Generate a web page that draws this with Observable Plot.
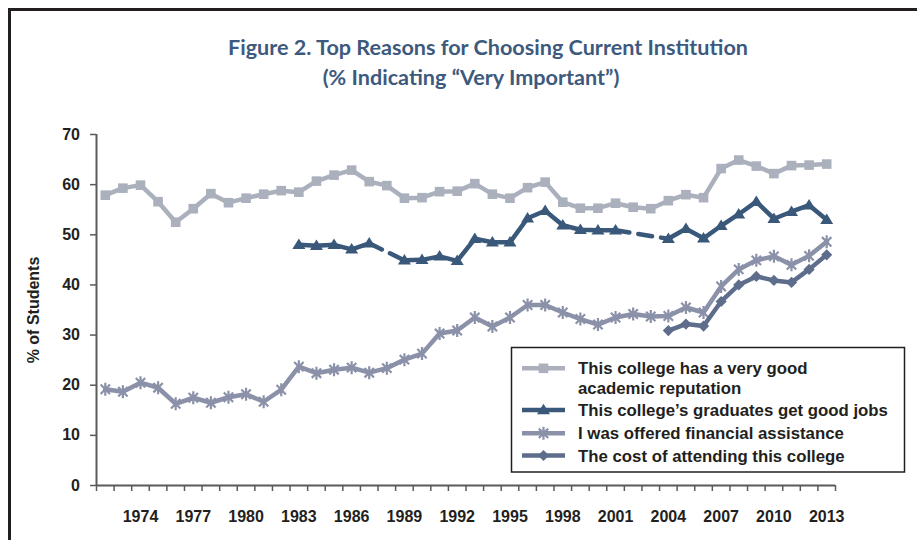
<!DOCTYPE html>
<html><head><meta charset="utf-8">
<script src="https://cdn.jsdelivr.net/npm/d3@7"></script>
<script src="https://cdn.jsdelivr.net/npm/@observablehq/plot@0.6"></script>
<style>
html,body{margin:0;padding:0;background:#fff;}
#wrap{position:relative;width:917px;height:540px;overflow:hidden;}
</style></head><body>
<div id="wrap"></div>
<script>
// ---- data ----
const years = [1972,1973,1974,1975,1976,1977,1978,1979,1980,1981,1982,1983,1984,1985,1986,1987,1988,1989,1990,1991,1992,1993,1994,1995,1996,1997,1998,1999,2000,2001,2002,2003,2004,2005,2006,2007,2008,2009,2010,2011,2012,2013];
const labelYears = [1974,1977,1980,1983,1986,1989,1992,1995,1998,2001,2004,2007,2010,2013];
const yTicks = [0,10,20,30,40,50,60,70];
const reputation = [57.9,59.3,59.9,56.6,52.5,55.2,58.2,56.4,57.3,58.1,58.8,58.5,60.7,61.9,62.9,60.6,59.8,57.3,57.4,58.6,58.7,60.2,58.1,57.3,59.4,60.5,56.5,55.3,55.3,56.3,55.5,55.2,56.8,58.0,57.4,63.2,64.9,63.7,62.2,63.8,63.9,64.1];
const jobs = [null,null,null,null,null,null,null,null,null,null,null,48.0,47.8,48.0,47.1,48.3,null,44.9,45.0,45.7,44.8,49.2,48.5,48.5,53.3,54.8,51.9,51.0,50.9,50.9,null,null,49.2,51.2,49.3,51.8,54.1,56.6,53.2,54.6,55.9,53.0];
const aid = [19.2,18.7,20.5,19.5,16.3,17.5,16.5,17.6,18.2,16.7,19.1,23.7,22.4,23.1,23.5,22.5,23.4,25.1,26.3,30.3,30.9,33.5,31.7,33.5,36.0,36.0,34.5,33.2,32.1,33.5,34.2,33.7,33.8,35.5,34.5,39.7,43.1,44.9,45.7,44.0,45.8,48.6];
const cost = [null,null,null,null,null,null,null,null,null,null,null,null,null,null,null,null,null,null,null,null,null,null,null,null,null,null,null,null,null,null,null,null,30.9,32.2,31.8,36.7,40.0,41.7,40.9,40.5,43.1,46.0];
const seriesNames = ["This college has a very good\nacademic reputation","This college\u2019s graduates get good jobs","I was offered financial assistance","The cost of attending this college"];
const seriesColors = ["#abb0bd","#39587a","#8a91a8","#5e6d8b"];
const titleLines = ["Figure 2. Top Reasons for Choosing Current Institution","(% Indicating \u201cVery Important\u201d)"];
const yLabel = "% of Students";

// ---- symbols ----
const rad = s => Math.sqrt(s/Math.PI);
const symSquare = {draw(c,s){const r=rad(s);c.moveTo(-r,-r);c.lineTo(r,-r);c.lineTo(r,r);c.lineTo(-r,r);c.closePath();}};
const symTriangle = {draw(c,s){const r=rad(s);c.moveTo(0,-r*1.25);c.lineTo(r*1.3,r*0.85);c.lineTo(-r*1.3,r*0.85);c.closePath();}};
const symDiamond = {draw(c,s){const r=rad(s);c.moveTo(0,-r);c.lineTo(r,0);c.lineTo(0,r);c.lineTo(-r,0);c.closePath();}};
const symStar = {draw(c,s){const r=rad(s);const d=r*0.72;c.moveTo(-d,-d);c.lineTo(d,d);c.moveTo(d,-d);c.lineTo(-d,d);c.moveTo(0,-r);c.lineTo(0,r);}};
const symbols = [symSquare,symTriangle,symStar,symDiamond];
const symR = [4.8,5,6.5,5.6];

const table = arr => years.map((year,i)=>({year, value: arr[i]}));
const seriesData = [reputation,jobs,aid,cost].map(table);

// dashed connectors across missing years
function gapSegments(rows){
  const segs=[]; let prev=null, gap=false, k=0;
  for(const r of rows){
    if(r.value==null){ if(prev) gap=true; continue; }
    if(prev && gap){ segs.push({...prev,k},{...r,k}); k++; }
    prev=r; gap=false;
  }
  return segs;
}

const tickBounds = years.map(y=>y-0.5).concat([years[years.length-1]+0.5]);
const textColor = "#231f20";
const axisColor = "#5a5a5a";

const marks = [
  Plot.ruleY([0],{stroke:axisColor,strokeWidth:2}),
  Plot.ruleX([tickBounds[0]],{stroke:axisColor,strokeWidth:2}),
  Plot.axisY({ticks:yTicks,tickSize:6,tickPadding:10.5,stroke:axisColor,strokeWidth:1.5,fill:textColor,label:null,tickFormat:d=>String(d)}),
  Plot.axisX({ticks:tickBounds,tickSize:6,tickFormat:()=> "",stroke:axisColor,strokeWidth:1.5,label:null}),
  Plot.axisX({ticks:labelYears,tickSize:0,tickPadding:25,fill:textColor,label:null,tickFormat:d=>String(d)})
];
seriesData.forEach((d,i)=>{
  marks.push(Plot.line(d,{x:"year",y:"value",stroke:seriesColors[i],strokeWidth:4.5,strokeLinejoin:"round"}));
  if(i===1){
    marks.push(Plot.line(gapSegments(d),{x:"year",y:"value",z:"k",stroke:seriesColors[i],strokeWidth:4.5,strokeDasharray:"14,9",strokeLinecap:"round"}));
  }
  const pts = d.filter(r=>r.value!=null);
  if(i===2) marks.push(Plot.dot(pts,{x:"year",y:"value",symbol:symbols[i],r:symR[i],fill:"none",stroke:seriesColors[i],strokeWidth:2.2}));
  else marks.push(Plot.dot(pts,{x:"year",y:"value",symbol:symbols[i],r:symR[i],fill:seriesColors[i],stroke:"none"}));
});

const svg = Plot.plot({
  width:917,height:540,
  marginLeft:96,marginRight:82,marginTop:134,marginBottom:55,
  x:{domain:[tickBounds[0],tickBounds[tickBounds.length-1]],axis:null},
  y:{domain:[0,70],axis:null},
  style:{fontFamily:"'Liberation Sans', Arial, sans-serif",fontWeight:"bold",fontSize:"16px",color:textColor,background:"#fff",overflow:"visible"},
  marks
});
document.getElementById("wrap").appendChild(svg);

const s = d3.select(svg);
// frame border
s.append("path").attr("d","M9.5,540V9.5H917").attr("fill","none").attr("stroke","#231f20").attr("stroke-width",3);
// y label
s.append("text").attr("transform","translate(39,310) rotate(-90)").attr("text-anchor","middle").attr("font-size","16px").attr("fill",textColor).text(yLabel);
// title
const tg = s.append("g").attr("font-family","Lato, 'Open Sans', sans-serif").attr("font-weight","700").attr("font-size","21.6px").attr("fill","#3d5a7e").attr("text-anchor","middle");
tg.append("text").attr("x",488).attr("y",55).text(titleLines[0]);
tg.append("text").attr("x",471).attr("y",84.5).text(titleLines[1]);

// legend
const lg = s.append("g").attr("text-anchor","start");
lg.append("rect").attr("x",511.5).attr("y",347.5).attr("width",393).attr("height",124.5).attr("fill","#fff").attr("stroke","#231f20").attr("stroke-width",1.5);
const rowY = [368.3,410,433.3,455.5];
seriesNames.forEach((name,i)=>{
  const y=rowY[i];
  lg.append("line").attr("x1",522).attr("x2",565).attr("y1",y).attr("y2",y).attr("stroke",seriesColors[i]).attr("stroke-width",4.5);
  const p=d3.path(); symbols[i].draw(p, symR[i]*symR[i]*Math.PI);
  const sp=lg.append("path").attr("d",p.toString()).attr("transform",`translate(543.5,${y})`);
  if(i===2) sp.attr("fill","none").attr("stroke",seriesColors[i]).attr("stroke-width",2.2);
  else sp.attr("fill",seriesColors[i]);
  const t=lg.append("text").attr("x",578).attr("y",y+6).attr("font-size","16.8px").attr("fill",textColor);
  name.split("\n").forEach((ln,j)=>t.append("tspan").attr("x",578).attr("dy",j?20:0).text(ln));
});
</script>
</body></html>
